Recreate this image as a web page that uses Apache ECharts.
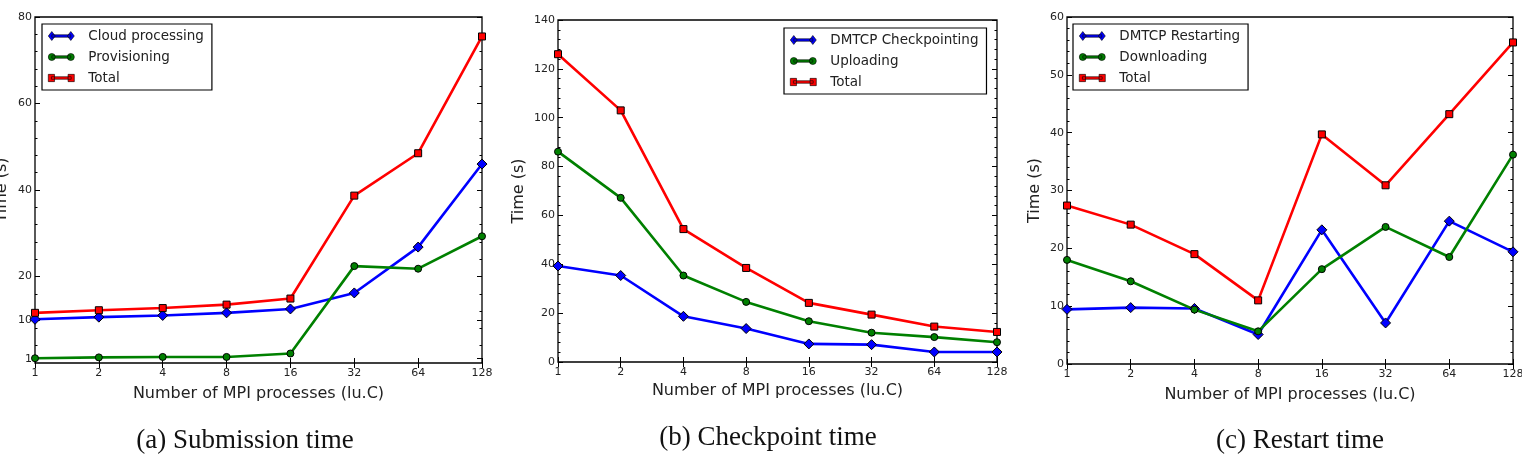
<!DOCTYPE html>
<html>
<head>
<meta charset="utf-8">
<script src="https://cdn.jsdelivr.net/npm/echarts@6/dist/echarts.min.js"></script>
<style>
  html, body { margin: 0; padding: 0; background: #fff; }
  #chart { width: 1522px; height: 461px; }
</style>
</head>
<body>
<div id="chart"></div>
<script>
// x categories (log2 spaced in the figure)
const procs = ['1', '2', '4', '8', '16', '32', '64', '128'];

// (a) Submission time
const cloudProcessing = [10.1, 10.6, 11.0, 11.6, 12.5, 16.2, 26.8, 46.0];
const provisioning    = [1.1, 1.3, 1.4, 1.4, 2.2, 22.4, 21.8, 29.3];
const submissionTotal = [11.6, 12.2, 12.7, 13.5, 14.9, 38.7, 48.5, 75.5];
const submissionTicks = [1, 10, 20, 40, 60, 80];

// (b) Checkpoint time
const dmtcpCheckpointing = [39.3, 35.4, 18.7, 13.7, 7.4, 7.1, 4.1, 4.1];
const uploading          = [86.1, 67.2, 35.4, 24.6, 16.7, 12.0, 10.2, 8.1];
const checkpointTotal    = [126, 103, 54.4, 38.5, 24.2, 19.4, 14.5, 12.3];

// (c) Restart time
const dmtcpRestarting = [9.45, 9.75, 9.6, 5.1, 23.2, 7.1, 24.7, 19.4];
const downloading     = [18.0, 14.3, 9.4, 5.65, 16.4, 23.7, 18.5, 36.2];
const restartTotal    = [27.4, 24.1, 19.0, 11.0, 39.7, 30.9, 43.2, 55.6];

const BLUE = '#0000ff', GREEN = '#008000', RED = '#ff0000';
const FONT = 'DejaVu Sans';

// legend icons: a short line with a marker at each end (matplotlib style)
const ICON_DIAMOND = 'path://M3.5,1.5L7,6L3.5,10.5L0,6ZM22.5,1.5L26,6L22.5,10.5L19,6ZM3.5,4.8L22.5,4.8L22.5,7.2L3.5,7.2Z';
const ICON_CIRCLE = 'path://M3.5,2.5A3.5,3.5,0,1,1,3.49,2.5ZM22.5,2.5A3.5,3.5,0,1,1,22.49,2.5ZM3.5,4.8L22.5,4.8L22.5,7.2L3.5,7.2Z';
const ICON_SQUARE = 'path://M0.5,2.5L6.5,2.5L6.5,9.5L0.5,9.5ZM19.5,2.5L25.5,2.5L25.5,9.5L19.5,9.5ZM3.5,4.8L22.5,4.8L22.5,7.2L3.5,7.2Z';

const grids = [
    { left: 35, top: 17, width: 447, height: 346 },
    { left: 558, top: 20, width: 439, height: 342 },
    { left: 1067, top: 17, width: 446, height: 347 }
];

const yRanges = [
    { max: 80, interval: 20, custom: submissionTicks, nameGap: 25 },
    { max: 140, interval: 20, custom: null, nameGap: 31 },
    { max: 60, interval: 10, custom: null, nameGap: 24 }
];

const xAxes = [];
const yAxes = [];
grids.forEach((g, i) => {
    g.show = true;
    g.borderColor = '#000';
    g.borderWidth = 1.3;
    g.backgroundColor = '#fff';
    g.containLabel = false;
    g.outerBoundsMode = 'none';
    const xTick = { show: true, inside: true, length: 5, lineStyle: { color: '#000', width: 1 }, alignWithLabel: true };
    xAxes.push({
        gridIndex: i, type: 'category', data: procs, boundaryGap: false, position: 'bottom',
        axisLine: { show: false }, axisTick: xTick,
        axisLabel: { color: '#222', fontFamily: FONT, fontSize: 11, margin: 5 },
        name: 'Number of MPI processes (lu.C)', nameLocation: 'middle', nameGap: i === 1 ? 21 : 23,
        nameTextStyle: { color: '#222', fontFamily: FONT, fontSize: 16 },
        splitLine: { show: false }
    });
    xAxes.push({
        gridIndex: i, type: 'category', data: procs, boundaryGap: false, position: 'top',
        axisLine: { show: false }, axisTick: xTick, axisLabel: { show: false }, splitLine: { show: false }
    });
    const r = yRanges[i];
    const yTick = { show: true, inside: true, length: 5, lineStyle: { color: '#000', width: 1 } };
    if (r.custom) yTick.customValues = r.custom;
    const minor = { show: true, splitNumber: 5, length: 2.5, lineStyle: { color: '#000', width: 1 } };
    const label = { color: '#222', fontFamily: FONT, fontSize: 11, margin: 3 };
    if (r.custom) label.customValues = r.custom;
    yAxes.push({
        gridIndex: i, type: 'value', min: 0, max: r.max, interval: r.interval, position: 'left',
        axisLine: { show: false }, axisTick: yTick, minorTick: minor, axisLabel: label,
        splitLine: { show: false }, minorSplitLine: { show: false },
        name: 'Time (s)', nameLocation: 'middle', nameGap: r.nameGap,
        nameTextStyle: { color: '#222', fontFamily: FONT, fontSize: 16 }
    });
    yAxes.push({
        gridIndex: i, type: 'value', min: 0, max: r.max, interval: r.interval, position: 'right',
        axisLine: { show: false }, axisTick: yTick, minorTick: minor, axisLabel: { show: false },
        splitLine: { show: false }
    });
});

function line(name, data, i, color, symbol, size) {
    return {
        name: name, type: 'line', data: data,
        xAxisIndex: 2 * i, yAxisIndex: 2 * i,
        symbol: symbol, symbolSize: size, showAllSymbol: true,
        lineStyle: { color: color, width: 2.6 },
        itemStyle: { color: color, borderColor: '#000', borderWidth: 1 },
        emphasis: { disabled: true },
        clip: false
    };
}

const series = [
    line('Cloud processing', cloudProcessing, 0, BLUE, 'diamond', 10),
    line('Provisioning', provisioning, 0, GREEN, 'circle', 7),
    line('Total', submissionTotal, 0, RED, 'rect', 7),
    line('DMTCP Checkpointing', dmtcpCheckpointing, 1, BLUE, 'diamond', 10),
    line('Uploading', uploading, 1, GREEN, 'circle', 7),
    line('Total', checkpointTotal, 1, RED, 'rect', 7),
    line('DMTCP Restarting', dmtcpRestarting, 2, BLUE, 'diamond', 10),
    line('Downloading', downloading, 2, GREEN, 'circle', 7),
    line('Total', restartTotal, 2, RED, 'rect', 7)
];

function legend(names, left, top) {
    const icons = [ICON_DIAMOND, ICON_CIRCLE, ICON_SQUARE];
    return {
        data: names.map((n, k) => ({ name: n, icon: icons[k] })),
        orient: 'vertical', left: left, top: top,
        backgroundColor: '#fff', borderColor: '#000', borderWidth: 1.2, borderRadius: 0,
        padding: [5, 8, 5, 6], itemGap: 7, itemWidth: 26, itemHeight: 12,
        itemStyle: { borderWidth: 0.6, borderColor: '#000' },
        textStyle: { color: '#222', fontFamily: FONT, fontSize: 13.5, padding: [0, 0, 0, 9] },
        selectedMode: false
    };
}

const chart = echarts.init(document.getElementById('chart'), null, { renderer: 'canvas' });
chart.setOption({
    animation: false,
    backgroundColor: '#fff',
    grid: grids,
    xAxis: xAxes,
    yAxis: yAxes,
    legend: [
        legend(['Cloud processing', 'Provisioning', 'Total'], 42, 24),
        legend(['DMTCP Checkpointing', 'Uploading', 'Total'], 784, 28),
        legend(['DMTCP Restarting', 'Downloading', 'Total'], 1073, 24)
    ],
    graphic: [
        { type: 'text', x: 245, y: 441, style: { text: '(a) Submission time', font: '27px "Liberation Serif"', fill: '#111', align: 'center', verticalAlign: 'middle' } },
        { type: 'text', x: 768, y: 438, style: { text: '(b) Checkpoint time', font: '27px "Liberation Serif"', fill: '#111', align: 'center', verticalAlign: 'middle' } },
        { type: 'text', x: 1300, y: 441, style: { text: '(c) Restart time', font: '27px "Liberation Serif"', fill: '#111', align: 'center', verticalAlign: 'middle' } }
    ],
    series: series
});
</script>
</body>
</html>
